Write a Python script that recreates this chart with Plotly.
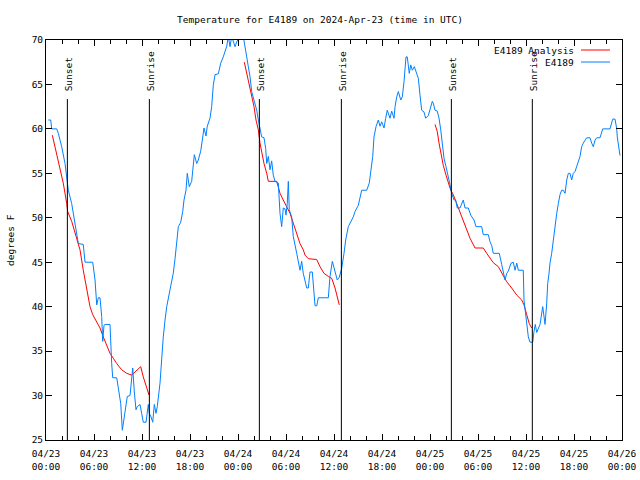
import plotly.graph_objects as go
from datetime import datetime, timedelta

# ---------------- data ----------------
base_time = "2024-04-23 00:00"

obs_hours = [0.29, 0.59, 0.71, 1.34, 1.54, 1.96, 2.38, 2.59, 2.79, 3.21, 3.63, 3.84, 4.04, 4.66, 4.88,
             5.84, 6.13, 6.34, 6.54, 6.75, 6.96, 7.09, 7.25, 7.38, 8.0, 8.21, 8.34, 8.84, 9.04, 9.34,
             9.54, 9.88, 10.16, 10.5, 10.84, 11.04, 11.25, 11.41, 11.75, 11.96, 12.16, 12.5, 12.66,
             12.79, 12.91, 13.13, 13.34, 13.54, 13.75, 13.91, 14.25, 14.46, 14.66, 14.88, 15.09, 15.5,
             15.91, 16.13, 16.34, 16.54, 16.84, 17.09, 17.25, 17.5, 17.66, 17.91, 18.21, 18.41, 18.54,
             18.84, 19.04, 19.34, 19.59, 19.75, 20.0, 20.16, 20.5, 20.71, 20.91, 21.13, 21.54, 21.84,
             22.16, 22.59, 22.79, 23.0, 23.21, 23.63, 23.84, 24.25, 24.66, 24.88, 25.09, 25.29, 25.5,
             25.71, 25.91, 26.13, 26.34, 26.54, 26.75, 26.96, 27.25, 27.46, 27.59, 27.79, 28.0, 28.21,
             28.41, 28.63, 29.04, 29.25, 29.46, 29.66, 29.88, 30.0, 30.16, 30.29, 30.41, 30.71, 30.91,
             31.13, 31.34, 31.75, 31.96, 32.16, 32.59, 32.79, 33.0, 33.29, 33.41, 33.63, 33.84, 34.04,
             35.29, 35.5, 35.79, 36.13, 36.41, 36.66, 36.96, 37.25, 37.46, 37.79, 38.21, 38.41, 38.63,
             39.04, 39.46, 40.09, 40.41, 40.63, 40.84, 41.0, 41.25, 41.54, 41.75, 41.96, 42.25, 42.46,
             42.66, 43.0, 43.21, 43.5, 43.63, 43.84, 44.04, 44.34, 44.54, 44.75, 45.0, 45.16, 45.41,
             45.59, 45.79, 46.04, 46.34, 46.54, 46.75, 46.96, 47.25, 47.46, 47.79, 48.0, 48.29, 48.41,
             48.63, 48.91, 49.13, 49.34, 49.54, 49.75, 50.0, 50.21, 50.41, 50.71, 51.0, 51.21, 51.41,
             51.75, 51.96, 52.16, 52.38, 52.79, 53.09, 53.5, 53.75, 54.46, 54.66, 55.29, 55.5, 55.71,
             55.91, 56.66, 56.96, 57.16, 57.38, 57.59, 57.79, 58.13, 58.41, 58.63, 58.84, 59.04, 59.66,
             59.75, 59.88, 60.09, 60.29, 60.5, 60.84, 61.0, 61.16, 61.34, 61.54, 61.75, 62.09, 62.25,
             62.38, 62.59, 62.71, 62.88, 63.0, 63.21, 63.41, 63.5, 63.63, 63.84, 64.04, 64.25, 64.46,
             64.66, 64.88, 65.09, 65.29, 65.5, 65.71, 65.91, 66.13, 66.34, 66.54, 66.75, 66.96, 67.16,
             67.59, 68.0, 68.21, 68.41, 68.63, 68.84, 69.25, 69.59, 70.5, 70.84, 71.13, 71.34, 71.41,
             71.59, 71.75]
obs_temps = [61, 61, 60, 60, 59.5, 58, 56.1, 54.4, 53.1, 51.6, 49.4, 48.25, 47.1, 47, 45,
             45, 43, 40.2, 41, 41, 38.9, 36.1, 37.9, 38, 38, 33.6, 32, 32, 30.6, 29.1,
             26.1, 28.4, 29.9, 30, 33.1, 30.4, 28.4, 28.75, 29, 28, 27, 27, 28.4,
             29, 28, 27.6, 27, 29, 28, 28.75, 31.4, 34.75, 36.6, 38.5, 40, 41.9,
             43.75, 45.4, 47, 49, 49.5, 50.7, 52, 53.1, 55, 53.5, 54.1, 56.3, 57.1,
             56.1, 56.5, 57.5, 59.5, 60.1, 59.2, 60.3, 61.2, 62.5, 64.9, 66.1, 66.2, 67.4,
             68.1, 69.3, 70.4, 69.25, 70.4, 69.25, 69.8, 70.4, 70.4, 69.4, 68.1, 67, 65.9,
             64.2, 63.6, 63, 62.1, 61, 59.9, 59.1, 59, 57.8, 56.1, 56.9, 55.4, 56.4,
             54.8, 54.1, 53.9, 50.5, 49, 51.1, 51, 50.3, 51.6, 54.1, 50.9, 50.1, 47.9,
             46.75, 46, 44.1, 45.1, 43.75, 42.1, 42.1, 43.9, 43.9, 42.5, 40.1, 40.1, 41,
             41, 43.4, 45.1, 44.1, 43, 43.3, 44.3, 46, 47.5, 49, 49.75, 50.1, 50.7,
             51.4, 53.1, 53.1, 53.9, 55.4, 56.9, 59.1, 60.25, 61, 60.3, 60.8, 60.1, 61.2,
             62.1, 61.2, 62, 61.2, 62.5, 63.6, 64.2, 63.25, 63.6, 65.3, 68.1, 68.1, 66.25,
             67.2, 66.6, 67, 66.1, 65.7, 63.8, 62.1, 61.9, 61.2, 61.5, 62.1, 63.1, 62.9,
             62.1, 62, 61.2, 59.9, 58.2, 56.7, 55.75, 55, 54.1, 52.75, 52, 52, 51.1,
             51.1, 51.5, 52, 51.1, 51.1, 50.3, 49.75, 49, 49, 48.1, 48.1, 47.3, 46.9,
             46, 46, 44.75, 43.75, 43, 43.75, 44, 44.9, 45, 44.1, 44.9, 44.1, 44.1,
             40.75, 39.6, 37.75, 36.6, 36, 36, 37.2, 38, 37.1, 37.6, 38, 40, 38.6,
             38, 40.4, 42.6, 43.75, 44.9, 46, 47.5, 48.6, 49.6, 50.5, 51.6, 52.6, 53.1,
             53.1, 52.75, 54.25, 55, 55, 54.25, 55, 55.2, 55.75, 56.3, 56.9, 58, 58.4,
             59, 59, 58.4, 58, 58.75, 59, 59, 60, 60, 61.1, 61.1, 60, 59.1,
             58, 57]

analysis_hours = [0.79, 1.54, 2.16, 2.59, 2.71, 3.21, 3.63, 3.84, 4.25, 4.66, 5.09, 5.5, 5.84, 6.34,
                  6.75, 7.16, 7.59, 8.0, 8.41, 8.84, 9.46, 10.09, 10.71, 11.25, 11.84, 12.16, 12.5,
                  12.88, None,
                  24.79, 25.09, 25.41, 25.71, 26.0, 26.25, 26.54, 26.75, 26.96, 27.25, 27.59, 27.79,
                  28.84, 29.25, 29.66, 30.09, 30.5, 30.91, 31.34, 31.75, 32.16, 32.38, 32.79, 33.84,
                  34.25, 34.75, 35.29, 35.71, 36.13, 36.41, 36.66, None,
                  48.63, 48.91, 49.13, 49.38, 49.66, 50.0, 50.29, 50.59, 50.91, 51.34, 51.75, 52.16,
                  52.59, 53.0, 53.63, 54.66, 55.09, 55.5, 55.91, 56.54, 56.96, 57.59, 58.21, 58.84,
                  59.46, 59.75, 60.09, 60.41, 60.71]
analysis_temps = [59.3, 56.5, 53.9, 51.6, 50.7, 49.6, 48.25, 47.5, 46.4, 44.1, 41.9, 40, 39.1, 38.3,
                  37.6, 36.6, 35.7, 34.75, 34.2, 33.6, 32.9, 32.5, 32.3, 32.8, 33.25, 32.1, 31.2,
                  30.06, None,
                  67.5, 66.25, 65.1, 63.8, 62.5, 61, 59.9, 58.4, 57.25, 56.1, 55, 54.1,
                  54.1, 52.75, 52, 51.25, 50.5, 49.4, 48.25, 47.1, 46.4, 45.8, 45.4, 45.3,
                  44.5, 43.75, 43.4, 43.2, 42.1, 41.1, 40.2, None,
                  60.5, 59.7, 58.4, 57.1, 55.9, 54.8, 53.9, 53.1, 52.6, 51.6, 50.7, 49.75,
                  48.6, 47.7, 46.6, 46.6, 46, 45.4, 44.95, 44.5, 43.75, 42.8, 42.1, 41.3,
                  40.75, 40.2, 39.1, 38.1, 37.6]

sun_event_hours = [2.67, 12.92, 26.67, 36.92, 50.67, 60.79]
sun_event_labels = ["Sunset", "Sunrise", "Sunset", "Sunrise", "Sunset", "Sunrise"]

y_ticks = [25, 30, 35, 40, 45, 50, 55, 60, 65, 70]
x_tick_hours = list(range(0, 73, 6))

title_text = "Temperature for E4189 on 2024-Apr-23 (time in UTC)"
y_label = "degrees F"
legend_names = ["E4189 Analysis", "E4189"]

# ---------------- build ----------------
t0 = datetime.strptime(base_time, "%Y-%m-%d %H:%M")
def to_t(h):
    return None if h is None else t0 + timedelta(hours=h)

FONT = "DejaVu Sans Mono"
FS = 9.5
BLUE = "#0080ff"
RED = "#ff0000"

fig = go.Figure()
fig.add_trace(go.Scatter(x=[to_t(h) for h in analysis_hours], y=analysis_temps, mode="lines",
                         line=dict(color=RED, width=1), name=legend_names[0],
                         connectgaps=False, showlegend=False))
fig.add_trace(go.Scatter(x=[to_t(h) for h in obs_hours], y=obs_temps, mode="lines",
                         line=dict(color=BLUE, width=1), name=legend_names[1], showlegend=False))

# sunrise / sunset lines and labels
L, R, T, B = 46, 622, 40, 440
W, H = R - L, B - T
y_min, y_max = 25, 70
label_base_y = y_max - (93 - T) / H * (y_max - y_min)
line_top_y = y_max - (99 - T) / H * (y_max - y_min)
for h, lab in zip(sun_event_hours, sun_event_labels):
    fig.add_shape(type="line", xref="x", yref="y", x0=to_t(h), x1=to_t(h), y0=y_min, y1=line_top_y,
                  line=dict(color="black", width=1))
    fig.add_annotation(x=to_t(h), y=label_base_y, xref="x", yref="y", text=lab, textangle=-90,
                       showarrow=False, xanchor="center", yanchor="bottom", xshift=1,
                       font=dict(family=FONT, size=FS, color="black"))

# manual gnuplot-style legend
def px(xp):
    return (xp - L) / W
def py(yp):
    return (B - yp) / H
for i, (nm, col) in enumerate(zip(legend_names, [RED, BLUE])):
    yy = 50 + 12 * i
    fig.add_annotation(x=px(576), y=py(yy), xref="paper", yref="paper", text=nm, showarrow=False,
                       xanchor="right", yanchor="middle", font=dict(family=FONT, size=FS, color="black"))
    fig.add_shape(type="line", xref="paper", yref="paper", x0=px(581), x1=px(610), y0=py(yy), y1=py(yy),
                  line=dict(color=col, width=1))

# y label
fig.add_annotation(x=px(10), y=0.5, xref="paper", yref="paper", text=y_label, textangle=-90,
                   showarrow=False, xanchor="center", yanchor="middle",
                   font=dict(family=FONT, size=FS, color="black"))

tick_times = [to_t(h) for h in x_tick_hours]
fig.update_layout(
    width=640, height=480,
    margin=dict(l=L, r=640 - R, t=T, b=480 - B, autoexpand=False),
    paper_bgcolor="white", plot_bgcolor="white",
    title=dict(text=title_text, x=0.5, xanchor="center", y=1 - 20 / 480, yanchor="middle",
               font=dict(family=FONT, size=FS, color="black")),
    font=dict(family=FONT, size=FS, color="black"),
    xaxis=dict(range=[to_t(0), to_t(72)], tickmode="array", tickvals=tick_times,
               ticktext=[t.strftime("%m/%d<br>%H:%M") for t in tick_times],
               ticks="inside", ticklen=6, tickcolor="black", showgrid=False, zeroline=False,
               showline=True, linecolor="black", linewidth=1, mirror="ticks", automargin=False,
               ticklabelstandoff=5,
               minor=dict(ticks="inside", ticklen=4, dtick=2 * 3600 * 1000, tick0=to_t(0),
                          tickcolor="black", showgrid=False),
               tickfont=dict(family=FONT, size=FS, color="black")),
    yaxis=dict(range=[y_min, y_max], tickmode="array", tickvals=y_ticks,
               ticks="inside", ticklen=6, tickcolor="black", showgrid=False, zeroline=False,
               showline=True, linecolor="black", linewidth=1, mirror="ticks", automargin=False,
               tickfont=dict(family=FONT, size=FS, color="black")),
)

fig.write_html("out.html", config={"displayModeBar": False},
               post_script="document.body.style.margin='0';document.body.style.overflow='hidden';")
